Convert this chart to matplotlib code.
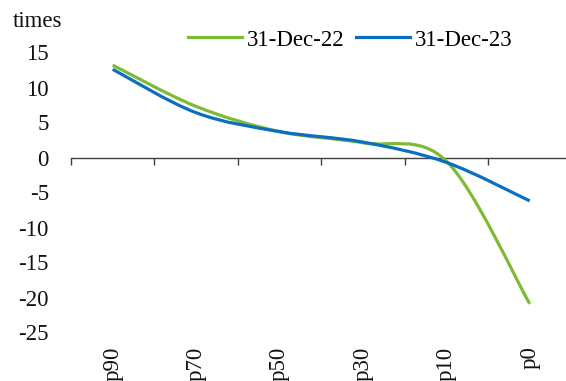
import numpy as np
import matplotlib
matplotlib.use('Agg')
import matplotlib.pyplot as plt
from matplotlib.path import Path
from matplotlib.patches import PathPatch
from matplotlib.lines import Line2D

categories = ['p90', 'p70', 'p50', 'p30', 'p10', 'p0']
dec22 = [13.2, 7.3, 3.7, 2.1, -0.5, -20.9]
dec23 = [12.6, 6.4, 3.7, 2.2, -0.7, -6.2]
series_labels = ['31-Dec-22', '31-Dec-23']
series_colors = ['#7DBB35', '#0A6EC1']
yticks = [15, 10, 5, 0, -5, -10, -15, -20, -25]

plt.rcParams['font.family'] = ['Liberation Serif', 'DejaVu Serif']
plt.rcParams['font.size'] = 16.5

W, H = 566, 381
fig = plt.figure(figsize=(W / 100, H / 100), dpi=100)
ax = fig.add_axes([71 / W, 1 - 332.5 / H, 500.4 / W, 280 / H])
ax.set_xlim(-0.5, len(categories) - 0.5)
ax.set_ylim(-25, 15)

# pixel scale per data unit (for Excel-like smoothing)
sx = 500.4 / len(categories)
sy = 280 / 40.0


def smooth_path(xs, ys):
    pts = np.column_stack([xs, ys]).astype(float)
    n = len(pts)

    def d(a, b):
        return np.hypot((a[0] - b[0]) * sx, (a[1] - b[1]) * sy)

    verts = [pts[0]]
    codes = [Path.MOVETO]
    f = 1 / 6
    for i in range(n - 1):
        p0 = pts[max(i - 1, 0)]
        p1 = pts[i]
        p2 = pts[i + 1]
        p3 = pts[min(i + 2, n - 1)]
        d02, d13, d12 = d(p0, p2), d(p1, p3), d(p1, p2)
        if d02 / 6 < d12 / 2 and d13 / 6 < d12 / 2:
            f0 = f1 = f
        else:
            f0 = d12 / (2 * d02) if d02 / 6 >= d12 / 2 else f
            f1 = d12 / (2 * d13) if d13 / 6 >= d12 / 2 else f
        b1 = p1 + (p2 - p0) * f0
        b2 = p2 - (p3 - p1) * f1
        verts += [b1, b2, p2]
        codes += [Path.CURVE4] * 3
    return Path(verts, codes)


x = np.arange(len(categories))
handles = []
for vals, lab, col in zip([dec22, dec23], series_labels, series_colors):
    patch = PathPatch(smooth_path(x, vals), fill=False, edgecolor=col,
                      lw=2.3, capstyle='butt', zorder=3)
    ax.add_patch(patch)
    handles.append(Line2D([], [], color=col, lw=2.3, label=lab))

for s in ['top', 'right', 'left']:
    ax.spines[s].set_visible(False)
ax.spines['bottom'].set_position(('data', 0))
ax.spines['bottom'].set_color('#404040')
ax.spines['bottom'].set_linewidth(1.0)
ax.set_xticks(np.arange(len(categories) + 1) - 0.5)
ax.set_xticklabels([])
ax.tick_params(axis='x', length=5, width=1, color='#404040', direction='out')
ax.set_yticks(yticks)
ax.set_yticklabels([str(v) for v in yticks])
ax.tick_params(axis='y', length=0, pad=16, labelcolor='#111111')

sec = ax.secondary_xaxis(0.0)
sec.set_xticks(x)
sec.set_xticklabels(categories, rotation=90, color='#111111')
sec.tick_params(length=0, pad=10)
sec.spines['bottom'].set_visible(False)

fig.text(13 / W, 1 - 26.7 / H, 'times', va='baseline', ha='left', color='#111111')

fig.legend(handles=handles, loc='center', bbox_to_anchor=(350 / W, 1 - 40 / H),
           ncol=2, frameon=False, handlelength=2.36, handletextpad=0.22,
           columnspacing=0.48, borderaxespad=0, borderpad=0)

fig.savefig('out.png', dpi=100)
